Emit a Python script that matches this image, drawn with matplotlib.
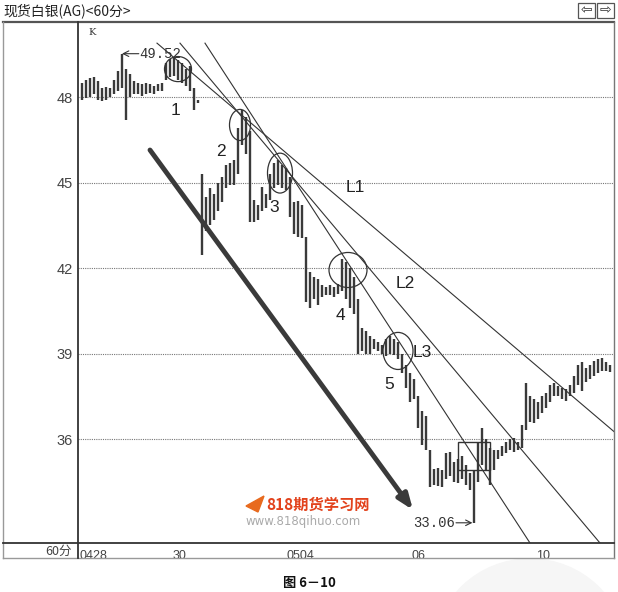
import numpy as np
import matplotlib.pyplot as plt
from matplotlib.lines import Line2D
from matplotlib.patches import Ellipse, Rectangle, Circle

plt.rcParams['font.family'] = ['Noto Sans CJK SC', 'DejaVu Sans']

# 60-minute bars, silver spot (AG)
highs = [
    48.5, 48.6, 48.65, 48.7, 48.55, 48.3, 48.35, 48.3, 48.6, 48.9,
    49.52, 49.0, 48.8, 48.55, 48.5, 48.45, 48.5, 48.45, 48.4, 48.45,
    48.5, 49.2, 49.35, 49.4, 49.3, 49.2, 49.0, 49.1, 48.3, 47.9,
    45.3, 44.5, 44.8, 44.6, 45.0, 45.2, 45.6, 45.7, 45.8, 46.9,
    47.55, 47.3, 46.8, 44.4, 44.2, 44.85, 44.6, 45.3, 45.7, 45.8,
    45.6, 45.5, 45.2, 44.3, 44.35, 44.2, 43.1, 41.85, 41.7, 41.6,
    41.4, 41.35, 41.4, 41.35, 41.45, 42.3, 42.2, 42.0, 41.7, 40.9,
    39.9, 39.8, 39.6, 39.5, 39.4, 39.3, 39.5, 39.6, 39.5, 39.4,
    39.0, 38.6, 38.3, 38.1, 37.5, 37.0, 36.8, 35.6, 34.95, 35.0,
    34.9, 35.5, 35.55, 35.2, 35.3, 35.4, 35.1, 34.8, 34.9, 35.9,
    36.4, 36.0, 35.7, 35.6, 35.6, 35.75, 35.9, 36.0, 36.05, 35.9,
    36.5, 37.95, 37.5, 37.4, 37.3, 37.5, 37.6, 37.9, 37.95, 37.85,
    37.8, 37.75, 37.9, 38.2, 38.6, 38.7, 38.5, 38.6, 38.75, 38.8,
    38.85, 38.7, 38.6]
lows = [
    47.9, 47.95, 48.0, 48.1, 47.9, 47.85, 47.9, 48.0, 48.1, 48.2,
    48.3, 47.2, 48.0, 48.1, 48.1, 48.05, 48.1, 48.15, 48.1, 48.2,
    48.2, 48.6, 48.7, 48.75, 48.6, 48.5, 48.4, 48.2, 47.55, 47.8,
    42.45, 43.3, 43.5, 43.7, 44.0, 44.3, 44.8, 44.9, 44.9, 45.3,
    46.3, 46.0, 43.6, 43.6, 43.7, 44.0, 44.1, 44.4, 44.8, 44.9,
    44.8, 44.75, 43.8, 43.2, 43.1, 43.05, 40.8, 40.6, 40.9, 40.7,
    41.0, 41.05, 41.05, 41.0, 41.1, 41.2, 40.9, 40.6, 40.4, 39.0,
    39.1, 39.0, 39.0, 39.15, 39.1, 39.0, 38.9, 39.0, 38.95, 38.8,
    38.3, 37.8, 37.3, 37.4, 36.4, 35.8, 35.6, 34.3, 34.4, 34.35,
    34.3, 34.6, 34.7, 34.5, 34.45, 34.6, 34.4, 34.2, 33.06, 34.5,
    35.1, 34.9, 34.4, 34.9, 35.3, 35.4, 35.5, 35.6, 35.55, 35.6,
    35.7, 36.3, 36.6, 36.55, 36.7, 36.9, 37.1, 37.3, 37.5, 37.5,
    37.4, 37.35, 37.5, 37.6, 37.9, 37.7, 38.0, 38.1, 38.2, 38.3,
    38.4, 38.4, 38.35]

price_ticks = [48, 45, 42, 39, 36]
date_labels = ['0428', '30', '0504', '06', '10']
date_pos = [-0.5, 24.5, 54.5, 84.25, 115.25]

# trend lines L1, L2, L3: (bar, price) end points
trend_lines = {
    'L1': [(18.75, 49.89), (133.0, 36.26)],
    'L2': [(24.5, 49.89), (129.5, 32.35)],
    'L3': [(30.75, 49.89), (112.0, 32.35)],
}
high_mark = 49.52
low_mark = 33.06

W, H = 618, 592
def fx(x):
    return x / W
def fy(y):
    return 1 - y / H

fig = plt.figure(figsize=(W / 100, H / 100), dpi=100)
fig.patch.set_facecolor('white')
ax = fig.add_axes([fx(78), fy(543), fx(614) - fx(78), fy(22) - fy(543)])
ax.set_xlim(-1, 133)
ax.set_ylim(32.351, 50.632)
for s in ax.spines.values():
    s.set_visible(False)
ax.set_facecolor('none')

# dotted price grid
for p in price_ticks:
    ax.axhline(p, color='#777777', lw=0.8, ls=(0, (1, 1)), zorder=1)
ax.set_yticks(price_ticks)
ax.set_yticklabels([str(p) for p in price_ticks], fontsize=10.5, color='#444444',
                   family=['Liberation Sans', 'DejaVu Sans'])
ax.tick_params(axis='y', length=0, pad=4)
ax.set_xticks([])

# bars
idx = np.arange(len(highs))
ax.vlines(idx, lows, highs, color='#3a3a3a', lw=1.7, zorder=3)

# trend lines
for name, ((x0, y0), (x1, y1)) in trend_lines.items():
    ax.plot([x0, x1], [y0, y1], color='#333333', lw=0.8, zorder=4, clip_on=True)

label_font = dict(fontsize=12.5, color='#222222', family=['Liberation Sans', 'DejaVu Sans'],
                  ha='center', va='center', zorder=5)
ax.text(68.25, 44.81, 'L1', **label_font)
ax.text(80.75, 41.44, 'L2', **label_font)
ax.text(85.0, 39.02, 'L3', **label_font)

# numbered contact points
for n, (cx, cy, w, h, lx, ly) in enumerate([
        (24.0, 48.98, 6.75, 0.88, 23.5, 47.54),
        (39.5, 47.02, 5.25, 1.09, 34.75, 46.1),
        (49.5, 45.33, 6.25, 1.40, 48.0, 44.14),
        (66.5, 41.93, 9.5, 1.23, 64.5, 40.32),
        (79.0, 39.09, 7.5, 1.30, 76.75, 37.9)], start=1):
    ax.add_patch(Ellipse((cx, cy), w, h, fill=False, ec='#333333', lw=0.9, zorder=5))
    ax.text(lx, ly, str(n), **label_font)

# box near the low
ax.add_patch(Rectangle((94, 34.91), 8, 0.985, fill=False, ec='#333333', lw=1.0, zorder=5))

# big down arrow
ax.annotate('', xy=(82.75, 33.51), xytext=(17, 46.14),
            arrowprops=dict(arrowstyle='-|>,head_length=0.9,head_width=0.35',
                            color='#3a3a3a', lw=3.5, shrinkA=0, shrinkB=0), zorder=6)

# high / low marks
hi_i = int(np.argmax(highs))
lo_i = int(np.argmin(lows))
mono = ['Liberation Mono', 'DejaVu Sans Mono']
ax.annotate('', xy=(hi_i, high_mark), xytext=(hi_i + 4.2, high_mark),
            arrowprops=dict(arrowstyle='->', color='#333333', lw=0.8, shrinkA=0, shrinkB=0))
ax.text(hi_i + 4.2, high_mark, '%.2f' % high_mark, fontsize=10, family=mono,
        color='#333333', ha='left', va='center')
ax.annotate('', xy=(lo_i - 0.4, low_mark), xytext=(lo_i - 4.5, low_mark),
            arrowprops=dict(arrowstyle='->', color='#333333', lw=0.8, shrinkA=0, shrinkB=0))
ax.text(lo_i - 4.7, low_mark, '%.2f' % low_mark, fontsize=10, family=mono,
        color='#333333', ha='right', va='center')

ax.text(0.02, 0.988, 'K', transform=ax.transAxes, fontsize=7, color='#333333',
        family=['DejaVu Serif'], ha='left', va='top')

# date row
for lab, pos in zip(date_labels, date_pos):
    ax.text(pos, -0.014, lab, transform=ax.get_xaxis_transform(), fontsize=9,
            color='#444444', ha='left' if lab == '0428' else 'center', va='top',
            family=['Liberation Sans', 'DejaVu Sans'])
fig.text(fx(72), fy(551), '60分', fontsize=9, color='#444444', ha='right', va='center')

# frame
def fline(xs, ys, lw=1.0, c='#444444'):
    fig.add_artist(Line2D([fx(x) for x in xs], [fy(y) for y in ys], lw=lw, color=c,
                          transform=fig.transFigure))
fline([3, 614], [22, 22], lw=1.6, c='#555555')
fline([3, 3], [22, 558], c='#999999')
fline([614, 614], [22, 558], c='#777777')
fline([3, 614], [558, 558], c='#999999')
fline([3, 614], [543, 543], lw=1.3, c='#333333')
fline([78, 78], [22, 558], lw=1.3, c='#333333')

# title bar
fig.text(fx(3), fy(11), '现货白银(AG)<60分>', fontsize=10, color='#222222',
         ha='left', va='center')
for bx, arrow in [(578, '⇦'), (597, '⇨')]:
    fig.add_artist(Rectangle((fx(bx), fy(18)), 17 / W, 15 / H, fill=False, ec='#555555',
                             lw=0.9, transform=fig.transFigure))
    fig.text(fx(bx + 8.5), fy(10.5), arrow, fontsize=10, color='#333333', ha='center',
             va='center', family=['DejaVu Sans'])

# watermark
fig.text(fx(266), fy(505), '818期货学习网', fontsize=11, color='#e2421c', weight='bold',
         ha='left', va='center')
fig.text(fx(246), fy(522), 'www.818qihuo.com', fontsize=8.5, color='#aaaaaa',
         ha='left', va='center', family=['DejaVu Sans'])
fig.add_artist(plt.Polygon([(fx(246), fy(506)), (fx(264), fy(496)), (fx(258), fy(512))],
                           closed=True, color='#e86a1e', transform=fig.transFigure))
fig.add_artist(Circle((fx(530), fy(650)), 95 / W, color='#f6f6f6',
                      transform=fig.transFigure, zorder=0))

# caption
fig.text(fx(309), fy(583), '图 6－10', fontsize=9.5, weight='bold', color='#111111',
         ha='center', va='center')

fig.savefig('out.png', dpi=100)
